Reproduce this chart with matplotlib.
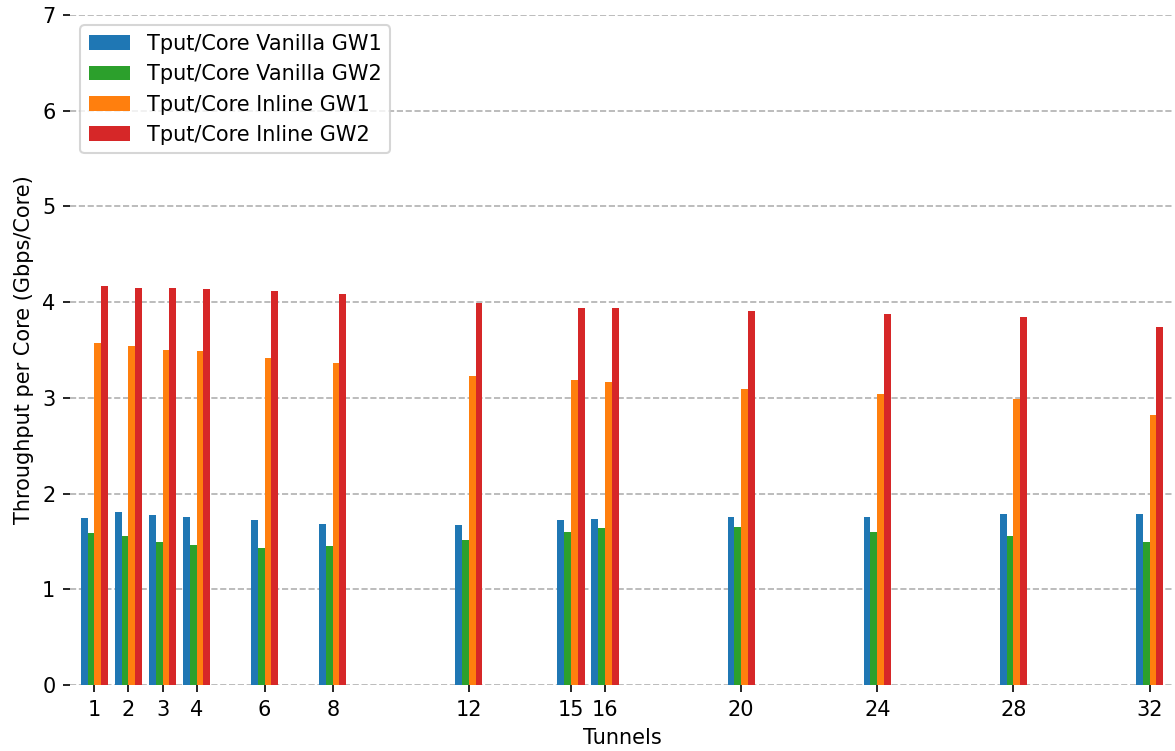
import numpy as np
import matplotlib
matplotlib.use("Agg")
import matplotlib.pyplot as plt

tunnels = [1, 2, 3, 4, 6, 8, 12, 15, 16, 20, 24, 28, 32]
vanilla_gw1 = [1.75, 1.81, 1.78, 1.76, 1.72, 1.68, 1.67, 1.72, 1.73, 1.76, 1.76, 1.79, 1.79]
vanilla_gw2 = [1.59, 1.56, 1.49, 1.46, 1.43, 1.45, 1.52, 1.60, 1.64, 1.65, 1.60, 1.56, 1.49]
inline_gw1 = [3.57, 3.54, 3.50, 3.49, 3.42, 3.36, 3.23, 3.19, 3.17, 3.09, 3.04, 2.99, 2.82]
inline_gw2 = [4.17, 4.15, 4.15, 4.14, 4.12, 4.08, 3.99, 3.94, 3.94, 3.91, 3.88, 3.84, 3.74]

series = [
    ("Tput/Core Vanilla GW1", vanilla_gw1, "tab:blue"),
    ("Tput/Core Vanilla GW2", vanilla_gw2, "tab:green"),
    ("Tput/Core Inline GW1", inline_gw1, "tab:orange"),
    ("Tput/Core Inline GW2", inline_gw2, "tab:red"),
]

fig = plt.figure(figsize=(1175 / 150, 751 / 150), dpi=150)
ax = fig.add_axes([70 / 1175, 66 / 751, 1104 / 1175, 670 / 751])

x = np.array(tunnels, dtype=float)
width = 0.2
offsets = [-1.5, -0.5, 0.5, 1.5]
for (label, vals, color), off in zip(series, offsets):
    ax.bar(x + off * width, vals, width, label=label, color=color,
           linewidth=0, zorder=3)

ax.margins(x=0.01)
ax.set_ylim(0, 7)
ax.set_xticks(tunnels)
ax.set_xticklabels([str(t) for t in tunnels])
ax.set_xlabel("Tunnels")
ax.set_ylabel("Throughput per Core (Gbps/Core)")
ax.yaxis.grid(True, linestyle="--", color="#b0b0b0", linewidth=0.8, zorder=0)
ax.set_axisbelow(True)
for s in ax.spines.values():
    s.set_visible(False)
ax.legend(loc="upper left")

fig.savefig("out.png", dpi=150)
